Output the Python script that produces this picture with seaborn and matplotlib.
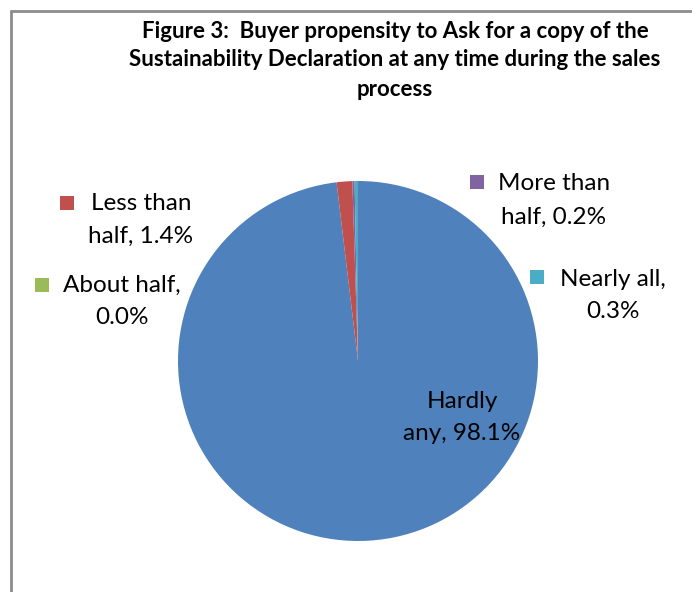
import matplotlib
matplotlib.use("Agg")
import matplotlib.pyplot as plt
from matplotlib.patches import Rectangle
from matplotlib.lines import Line2D
import seaborn as sns

categories = ["Hardly any", "Less than half", "About half", "More than half", "Nearly all"]
shares = [98.1, 1.4, 0.0, 0.2, 0.3]
label_lines = [["Hardly", "any, 98.1%"],
               ["Less than", "half, 1.4%"],
               ["About half,", "0.0%"],
               ["More than", "half, 0.2%"],
               ["Nearly all,", "0.3%"]]
title_lines = ["Figure 3:  Buyer propensity to Ask for a copy of the",
               "Sustainability Declaration at any time during the sales",
               "process"]

sns.set_theme(style="white")
plt.rcParams["font.family"] = ["Lato", "DejaVu Sans"]
palette = sns.color_palette(["#4F81BD", "#C0504D", "#9BBB59", "#8064A2", "#4BACC6"])

W, H = 692, 592
fig = plt.figure(figsize=(W / 100, H / 100), dpi=100)
ax = fig.add_axes([0, 0, 1, 1])

def Y(y):
    return H - y

ax.pie(shares, colors=palette, startangle=90, counterclock=False,
       center=(358, Y(361)), radius=180,
       wedgeprops=dict(linewidth=0))
ax.set_xlim(0, W)
ax.set_ylim(0, H)
ax.set_aspect("equal")
ax.axis("off")

# title
for i, line in enumerate(title_lines):
    ax.text(395, Y(31 + i * 29), line, ha="center", va="center",
            fontsize=16, fontweight="bold", color="black")

# data labels: (key x, key y, text anchor x, first line y, key shown)
label_pos = [
    (None, None, 462, 401, False),
    (67, 203, 141, 203, True),
    (42, 285, 122, 285, True),
    (477, 182, 554, 184, True),
    (537, 277, 613, 279, True),
]
for i, (kx, ky, tx, ty, show_key) in enumerate(label_pos):
    lines = label_lines[i]
    if show_key:
        ax.add_patch(Rectangle((kx - 7, Y(ky) - 7), 14, 14, color=palette[i], lw=0))
    for j, ln in enumerate(lines):
        ax.text(tx, Y(ty + j * 33), ln, ha="center", va="center",
                fontsize=17.5, color="black")

# chart area frame
fig.add_artist(Line2D([10.5 / W, 10.5 / W], [0, 1 - 10.5 / H], transform=fig.transFigure,
                      color="#8c8c8c", lw=2))
fig.add_artist(Line2D([10.5 / W, 1], [1 - 10.5 / H, 1 - 10.5 / H], transform=fig.transFigure,
                      color="#8c8c8c", lw=2))

fig.savefig("out.png", dpi=100)
